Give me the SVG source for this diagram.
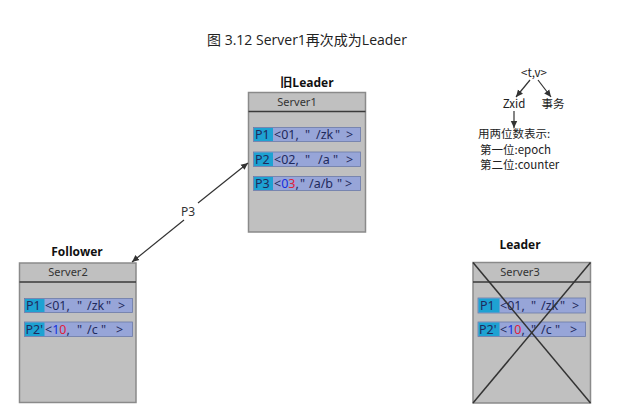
<svg xmlns="http://www.w3.org/2000/svg" width="617" height="418" viewBox="0 0 617 418">
<style>
.box{fill:#c0c0c0;stroke:#8a8a8a;stroke-width:1.5}
.div{stroke:#3a3a3a;stroke-width:1.5}
.row{fill:#97a5d8;stroke:#6c7aa8;stroke-width:0.8}
.lab{fill:#1ea2d2}
.t{font-family:"Noto Sans","Open Sans",sans-serif;font-size:12.5px;fill:#1f2a5c}
.hd{font-family:"Noto Sans","Open Sans",sans-serif;font-size:11px;fill:#333}
.ttl{font-family:"Open Sans","Noto Sans CJK SC",sans-serif;font-size:12px;font-weight:bold;fill:#111}
.b{fill:#1530e0}
.r{fill:#e0203a}
.note{font-family:"Noto Sans CJK SC",sans-serif;font-size:11.5px;fill:#222}
.conn{stroke:#333;stroke-width:1.2;fill:none}
</style>
<defs>
<marker id="ah" markerWidth="8" markerHeight="8" refX="7" refY="4" orient="auto" markerUnits="userSpaceOnUse">
<path d="M0,0.8 L7,4 L0,7.2 Z" fill="#333"/>
</marker>
</defs>
<rect width="617" height="418" fill="#fff"/>
<text x="307" y="45" text-anchor="middle" font-family="Open Sans, Noto Sans CJK SC, sans-serif" font-size="14" fill="#222">图 3.12 Server1再次成为Leader</text>

<g id="server1">
<text class="ttl" x="307" y="87" text-anchor="middle">旧Leader</text>
<rect class="box" x="248.5" y="92.5" width="117" height="139.5"/>
<line class="div" x1="248.5" y1="111.5" x2="365.5" y2="111.5"/>
<text class="hd" x="297" y="106" text-anchor="middle">Server1</text>
<rect class="row" x="253.5" y="127.5" width="107" height="14"/>
<rect class="lab" x="254" y="128" width="19" height="13"/>
<text class="t" x="255" y="139">P1</text>
<text class="t" y="139"><tspan x="274">&lt;01,</tspan><tspan x="305">"</tspan><tspan x="316">/zk</tspan><tspan x="335">"</tspan><tspan x="346">&gt;</tspan></text>
<rect class="row" x="253.5" y="152" width="107" height="14.5"/>
<rect class="lab" x="254" y="152.5" width="19" height="13.5"/>
<text class="t" x="255" y="164">P2</text>
<text class="t" y="164"><tspan x="274">&lt;02,</tspan><tspan x="305">"</tspan><tspan x="318">/a</tspan><tspan x="333">"</tspan><tspan x="346">&gt;</tspan></text>
<rect class="row" x="253.5" y="176.5" width="107" height="14"/>
<rect class="lab" x="254" y="177" width="19" height="13"/>
<text class="t" x="255" y="188">P3</text>
<text class="t" y="188"><tspan x="274">&lt;</tspan><tspan class="b">0</tspan><tspan class="r">3</tspan><tspan>,</tspan><tspan x="300">"</tspan><tspan x="309">/a/b</tspan><tspan x="337">"</tspan><tspan x="345">&gt;</tspan></text>
</g>

<g id="server2">
<text class="ttl" x="77" y="256" text-anchor="middle">Follower</text>
<rect class="box" x="19.5" y="263" width="116.5" height="139.5"/>
<line class="div" x1="19.5" y1="282" x2="136" y2="282"/>
<text class="hd" x="68" y="276" text-anchor="middle">Server2</text>
<rect class="row" x="24.5" y="298.5" width="108" height="14"/>
<rect class="lab" x="25" y="299" width="19.5" height="13"/>
<text class="t" x="26" y="310">P1</text>
<text class="t" y="310"><tspan x="45">&lt;01,</tspan><tspan x="77">"</tspan><tspan x="87">/zk</tspan><tspan x="106">"</tspan><tspan x="118">&gt;</tspan></text>
<rect class="row" x="24.5" y="322" width="108" height="14.5"/>
<rect class="lab" x="25" y="322.5" width="19.5" height="13.5"/>
<text class="t" x="25.5" y="334">P2'</text>
<text class="t" y="334"><tspan x="45">&lt;</tspan><tspan class="b">1</tspan><tspan class="r">0</tspan><tspan>,</tspan><tspan x="77">"</tspan><tspan x="87">/c</tspan><tspan x="101">"</tspan><tspan x="116">&gt;</tspan></text>
</g>

<g id="server3">
<text class="ttl" x="520" y="249" text-anchor="middle">Leader</text>
<rect class="box" x="473" y="262.5" width="117.5" height="140.5"/>
<line class="div" x1="473" y1="282" x2="590.5" y2="282"/>
<text class="hd" x="520" y="276" text-anchor="middle">Server3</text>
<rect class="row" x="478" y="298" width="107.5" height="15"/>
<rect class="lab" x="478.5" y="298.5" width="21" height="14"/>
<text class="t" x="480" y="310">P1</text>
<text class="t" y="310"><tspan x="500">&lt;01,</tspan><tspan x="531">"</tspan><tspan x="541">/zk</tspan><tspan x="560">"</tspan><tspan x="572">&gt;</tspan></text>
<rect class="row" x="478" y="322" width="107.5" height="14.5"/>
<rect class="lab" x="478.5" y="322.5" width="21" height="13.5"/>
<text class="t" x="479" y="334">P2'</text>
<text class="t" y="334"><tspan x="500">&lt;</tspan><tspan class="b">1</tspan><tspan class="r">0</tspan><tspan>,</tspan><tspan x="531">"</tspan><tspan x="541">/c</tspan><tspan x="555">"</tspan><tspan x="570">&gt;</tspan></text>
<line x1="473" y1="262.5" x2="590.5" y2="403" stroke="#333" stroke-width="1.5"/>
<line x1="590.5" y1="262.5" x2="473" y2="403" stroke="#333" stroke-width="1.5"/>
</g>

<g id="note">
<text class="note" x="534" y="77" text-anchor="middle" font-family="Open Sans, sans-serif" font-size="12">&lt;t,v&gt;</text>
<text class="note" x="514" y="108" text-anchor="middle" font-family="Open Sans, sans-serif" font-size="13">Zxid</text>
<text class="note" x="553" y="108" text-anchor="middle" font-size="13">事务</text>
<text class="note" x="478" y="138">用两位数表示:</text>
<text class="note" x="480" y="154">第一位:epoch</text>
<text class="note" x="480" y="169">第二位:counter</text>
</g>

<g id="connectors">
<line class="conn" x1="530" y1="80" x2="516" y2="97" marker-end="url(#ah)"/>
<line class="conn" x1="538" y1="80" x2="551" y2="97" marker-end="url(#ah)"/>
<line class="conn" x1="514" y1="111" x2="514" y2="128" marker-end="url(#ah)"/>
<line class="conn" x1="184" y1="220" x2="132" y2="262" marker-end="url(#ah)"/>
<line class="conn" x1="198" y1="203" x2="248" y2="163" marker-end="url(#ah)"/>
<text x="188" y="216" text-anchor="middle" font-family="Noto Sans, sans-serif" font-size="12" fill="#333">P3</text>
</g>
</svg>
